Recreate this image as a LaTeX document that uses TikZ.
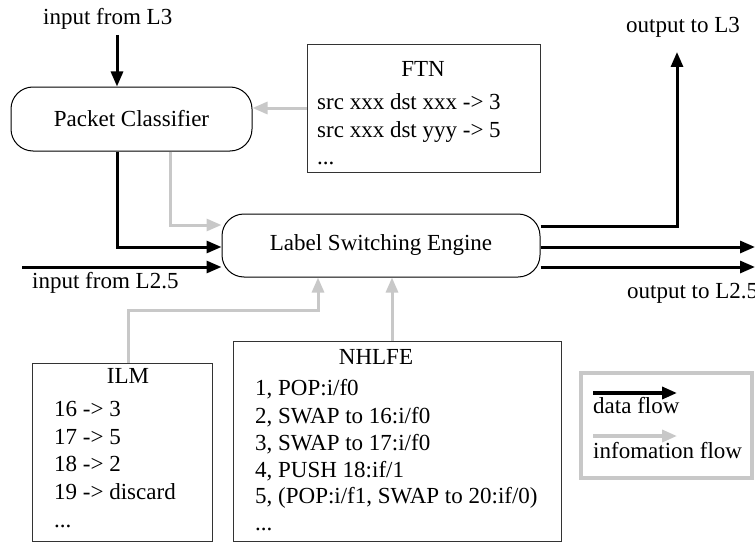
\documentclass[tikz,border=0pt]{standalone}
\usepackage{fontspec}
\setmainfont{Liberation Serif}
\usetikzlibrary{arrows.meta}
\definecolor{lgray}{RGB}{200,200,200}
\begin{document}
\begin{tikzpicture}[x=1pt,y=-1pt,
  every node/.style={font=\fontsize{23}{27.5}\selectfont, inner sep=0pt},
  txt/.style={anchor=base west},
  ttl/.style={anchor=base},
  rbox/.style={draw, line width=1pt, rounded corners=22pt, inner sep=0pt},
  tbox/.style={draw=black!80, line width=1pt, inner sep=0pt},
  data/.style={line width=3pt, -{Triangle[length=15pt,width=12pt]}},
  info/.style={line width=3pt, draw=lgray, -{Triangle[length=15pt,width=12pt]}},
]
\useasboundingbox (0,0) rectangle (755,543);

% main blocks
\node[rbox, minimum width=241pt, minimum height=64pt] (pc) at (131.5,119) {Packet Classifier};
\node[rbox, minimum width=318pt, minimum height=63pt] (lse) at (381,245.5) {Label Switching Engine};
\node[tbox, minimum width=233pt, minimum height=127pt] (ftn) at (423.5,108.5) {};
\node[tbox, minimum width=180pt, minimum height=178pt] (ilm) at (122,452) {};
\node[tbox, minimum width=328pt, minimum height=200pt] (nhlfe) at (397,441) {};
\node[draw=lgray, line width=4pt, minimum width=171pt, minimum height=105pt] (leg) at (666.5,425.5) {};

% FTN text
\node[ttl] (ftnT) at (423,77) {FTN};
\node[txt] (ftn1) at (317,109) {src xxx dst xxx -> 3};
\node[txt] (ftn2) at (317,137) {src xxx dst yyy -> 5};
\node[txt] (ftn3) at (317,164) {...};

% ILM text
\node[ttl] (ilmT) at (128,383) {ILM};
\node[txt] (ilm1) at (54,416) {16 -> 3};
\node[txt] (ilm2) at (54,444) {17 -> 5};
\node[txt] (ilm3) at (54,471) {18 -> 2};
\node[txt] (ilm4) at (54,499) {19 -> discard};
\node[txt] (ilm5) at (54,527) {...};

% NHLFE text
\node[ttl] (nhT) at (376,364) {NHLFE};
\node[txt] (nh1) at (255,395) {1, POP:i/f0};
\node[txt] (nh2) at (255,423) {2, SWAP to 16:i/f0};
\node[txt] (nh3) at (255,450) {3, SWAP to 17:i/f0};
\node[txt] (nh4) at (255,477) {4, PUSH 18:if/1};
\node[txt] (nh5) at (255,503) {5, (POP:i/f1, SWAP to 20:if/0)};
\node[txt] (nh6) at (255,530) {...};

% outside labels
\node[txt] (lin3) at (43,25) {input from L3};
\node[txt] (lin25) at (32,288) {input from L2.5};
\node[ttl] (lout3) at (683,33) {output to L3};
\node[txt] (lout25) at (627,298) {output to L2.5};
\node[txt] (ldata) at (593,413) {data flow};
\node[txt] (linfo) at (593,458) {infomation flow};

% free ends
\coordinate (in3) at (117,35);
\coordinate (in25) at (22,267);
\coordinate (out3) at (677,52);
\coordinate (outa) at (755,247);
\coordinate (outb) at (755,267);
\coordinate (ld1) at (593,393);
\coordinate (ld2) at (677,393);
\coordinate (li1) at (593,436);
\coordinate (li2) at (677,436);

% data flow
\draw[data] (in3) -- (in3 |- pc.north);
\draw[data] (pc.south -| in3) |- (lse.west |- 0,247);
\draw[data] (in25) -- (lse.west |- in25);
\draw[data] (lse.east |- 0,226) -| (out3);
\draw[data] (lse.east |- outa) -- (outa);
\draw[data] (lse.east |- outb) -- (outb);

% information flow
\draw[info] (ftn.west |- 0,108) -- (pc.east |- 0,108);
\draw[info] (pc.south -| 170,0) |- (lse.west |- 0,225);
\draw[info] (ilm.north -| 128,0) -- (128,310) -| (lse.south -| 318,0);
\draw[info] (nhlfe.north -| 392,0) -- (lse.south -| 392,0);

% legend
\draw[data, line width=3.5pt] (ld1) -- (ld2);
\draw[info, line width=3.5pt] (li1) -- (li2);
\end{tikzpicture}
\end{document}
